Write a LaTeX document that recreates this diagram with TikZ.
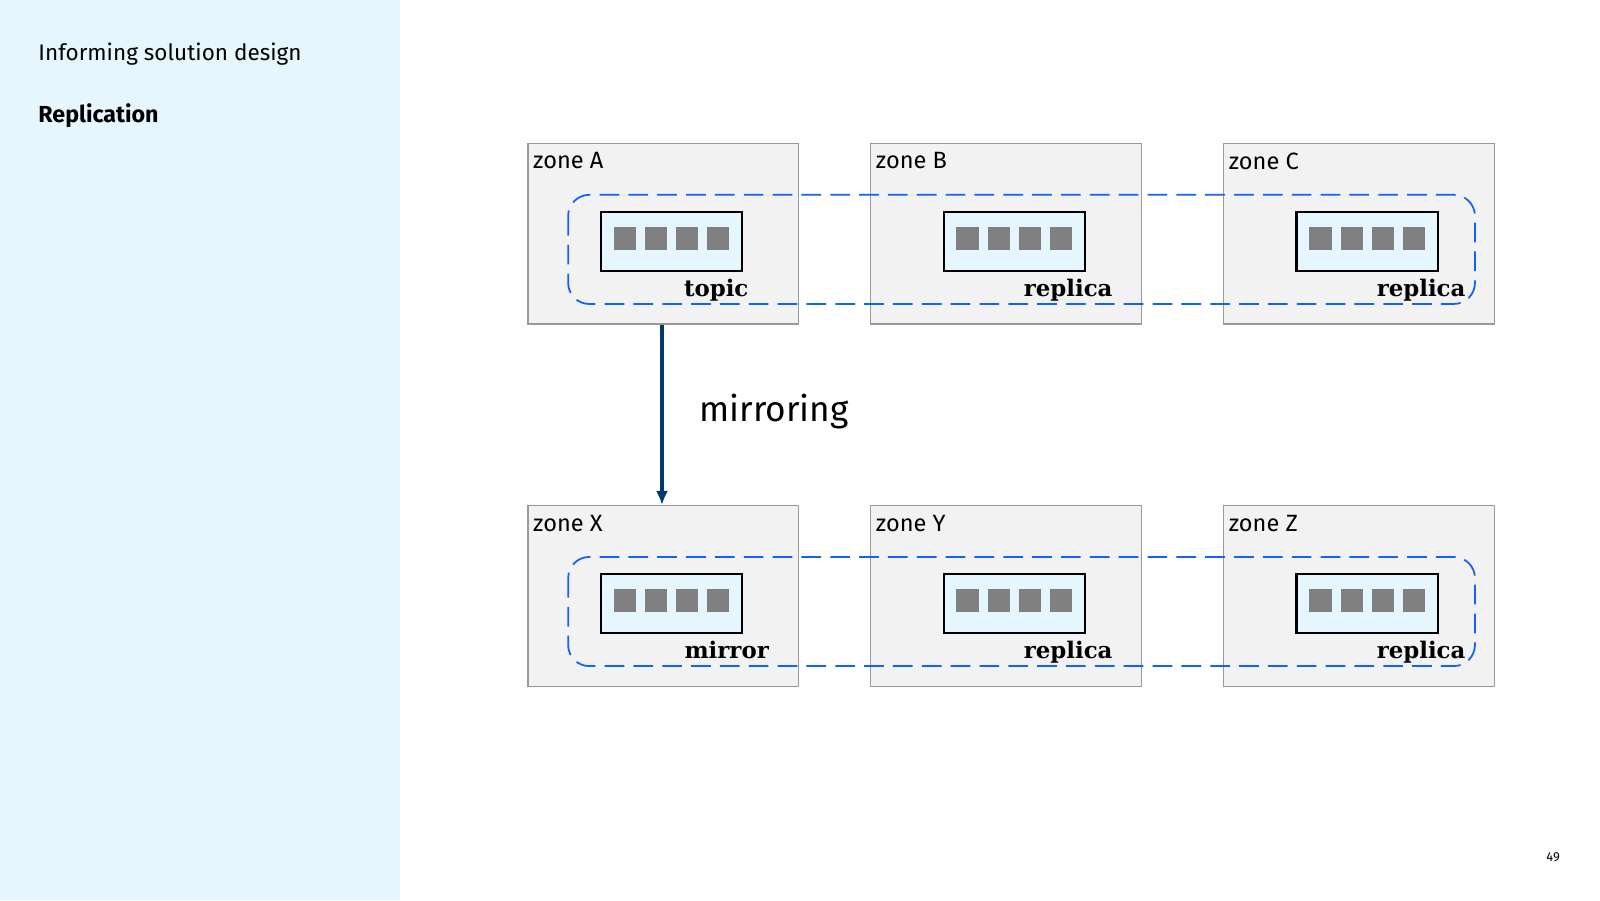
\documentclass[tikz,border=0pt]{standalone}
\usepackage{fontspec}
\setmainfont{Fira Sans}
\newfontfamily\labelfont{DejaVu Serif}
\usetikzlibrary{positioning,arrows.meta}
\definecolor{panelblue}{HTML}{E5F6FF}
\definecolor{zonegrey}{HTML}{F2F2F2}
\definecolor{ringblue}{HTML}{0F62FE}
\definecolor{arrowblue}{HTML}{003A6D}
\begin{document}
\begin{tikzpicture}[x=0.0102cm, y=-0.0102cm]
    \tikzset{
        zone/.style = {draw=black!40, fill=zonegrey, line width=0.4pt, minimum width=2.705cm, minimum height=1.805cm, inner sep=0pt},
        zonename/.style = {anchor=north west, font=\fontsize{6.7}{7}\selectfont, inner sep=0pt},
        partition/.style = {draw=black, fill=panelblue, line width=0.6pt, minimum width=1.41cm, minimum height=0.59cm, inner sep=0pt},
        msg/.style = {fill=black!50, minimum size=0.224cm, inner sep=0pt},
        ring/.style = {draw=ringblue, dash pattern=on 5.6pt off 2.6pt, line width=0.5pt, rounded corners=6pt},
        role/.style = {anchor=base east, font=\labelfont\bfseries\fontsize{6.5}{8}\selectfont, inner sep=0pt},
        flow/.style = {draw=arrowblue, line width=1pt, -{Latex[length=4pt,width=3.5pt]}}
    }
    \useasboundingbox (0,0) rectangle (1568.6,882.4);
    \fill[panelblue] (0,0) rectangle (392,882.4);
    \node[anchor=base west, font=\fontsize{6.4}{8}\selectfont, inner sep=0pt] (heading) at (37,59) {Informing solution design};
    \node[anchor=base west, font=\bfseries\fontsize{6.6}{8}\selectfont, inner sep=0pt] (title) at (37,120) {Replication};
    \node[anchor=base east, font=\fontsize{3.7}{4}\selectfont, inner sep=0pt] (page) at (1530,845) {49};

    % zones
    \foreach \name/\x/\y/\label in {A/517/140/zone A, B/853/140/zone B, C/1199/140/zone C,
                                    X/517/495/zone X, Y/853/495/zone Y, Z/1199/495/zone Z} {
        \node[zone, anchor=north west] (zone\name) at (\x,\y) {};
        \node[zonename] at ([shift={(5,9)}]zone\name.north west) {\label};
    }

    % replica rings
    \draw[ring] (557,191) rectangle (1446,298);
    \draw[ring] (557,546) rectangle (1446,653);

    % partitions
    \foreach \name/\x/\y/\role/\dx in {a/588/207/topic/6, b/924/207/replica/27, c/1270/207/replica/27,
                                       x/588/562/mirror/26, y/924/562/replica/27, z/1270/562/replica/27} {
        \node[partition, anchor=north west] (part\name) at (\x,\y) {};
        \foreach \i in {0,...,3}
            \node[msg, anchor=north west] at (\x+13+\i*30.5,\y+15) {};
        \node[role] at ([shift={(\dx,24)}]part\name.south east) {\role};
    }

    % mirroring
    \draw[flow] (zoneA.south -| 649,0) -- (zoneX.north -| 649,0);
    \node[anchor=west, font=\fontsize{10}{12}\selectfont, inner sep=0pt] (mirrorlabel) at (685,403) {mirroring};
\end{tikzpicture}
\end{document}
